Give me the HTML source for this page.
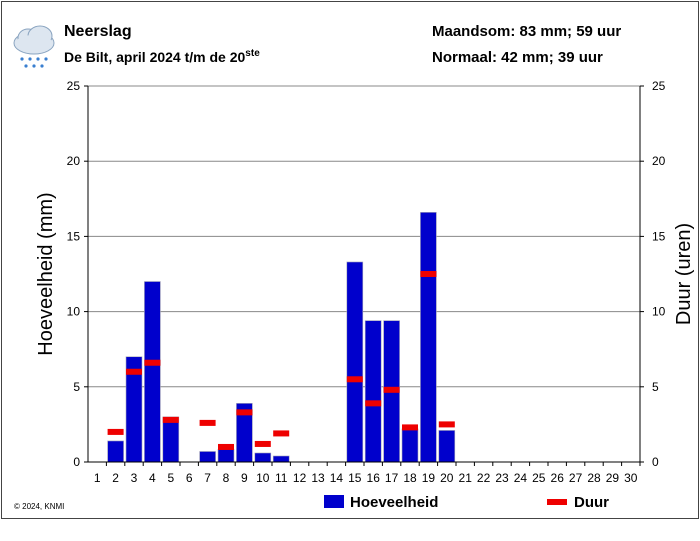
<!DOCTYPE html>
<html><head><meta charset="utf-8"><style>
body{margin:0;background:#fff;}
svg{display:block;font-family:"Liberation Sans",Arial,sans-serif;}
</style></head><body>
<svg id="chart" width="700" height="541" viewBox="0 0 700 541">
<rect x="1.5" y="1.5" width="697" height="517" fill="#fff" stroke="#444"/>
<g>
<ellipse cx="34" cy="43" rx="20" ry="11" fill="#dde6f0" stroke="#8aa4c0"/>
<ellipse cx="28" cy="38" rx="10" ry="9" fill="#dde6f0" stroke="#8aa4c0"/>
<ellipse cx="40" cy="36" rx="12" ry="10" fill="#dde6f0" stroke="#8aa4c0"/>
<ellipse cx="34" cy="44" rx="19" ry="9" fill="#dde6f0"/>
<g fill="#3a7fd0"><circle cx="22" cy="59" r="1.6"/><circle cx="30" cy="59" r="1.6"/><circle cx="38" cy="59" r="1.6"/><circle cx="46" cy="59" r="1.6"/><circle cx="26" cy="66" r="1.6"/><circle cx="34" cy="66" r="1.6"/><circle cx="42" cy="66" r="1.6"/></g>
</g>
<text x="64" y="36" font-size="16" font-weight="bold">Neerslag</text>
<text x="64" y="62" font-size="14" font-weight="bold">De Bilt, april 2024 t/m de 20<tspan font-size="10" dy="-6">ste</tspan></text>
<text x="432" y="36" font-size="15" font-weight="bold">Maandsom: 83 mm; 59 uur</text>
<text x="432" y="62" font-size="15" font-weight="bold">Normaal: 42 mm; 39 uur</text>
<g id="grid"></g>
<g id="bars"></g>
<g id="duur"></g>
<g id="axes"></g>
<text transform="translate(52,274) rotate(-90)" text-anchor="middle" font-size="20">Hoeveelheid (mm)</text>
<text transform="translate(690,274) rotate(-90)" text-anchor="middle" font-size="20">Duur (uren)</text>
<text x="14" y="509" font-size="8">© 2024, KNMI</text>
<g><rect x="324" y="495" width="20" height="13" fill="#0000cc"/><text x="350" y="507" font-size="15" font-weight="bold">Hoeveelheid</text></g>
<g><rect x="547" y="499" width="20" height="6" fill="#ee0000"/><text x="574" y="507" font-size="15" font-weight="bold">Duur</text></g>
</svg>
<script>
const days = Array.from({length:30},(_,i)=>i+1);
const amountMm = [0,1.4,7.0,12.0,3.0,0,0.7,0.85,3.9,0.6,0.4,0,0,0,13.3,9.4,9.4,2.2,16.6,2.1];
const durationH = [null,2.0,6.0,6.6,2.8,null,2.6,1.0,3.3,1.2,1.9,null,null,null,5.5,3.9,4.8,2.3,12.5,2.5];
const yTicks = [0,5,10,15,20,25];
const NS='http://www.w3.org/2000/svg';
const X0=88,X1=640,Y0=462,Y1=86,YMAX=25;
const step=(X1-X0)/30;
const xc=d=>X0+(d-0.5)*step;
const y=v=>Y0-(v/YMAX)*(Y0-Y1);
function mk(tag,attrs,parent){const e=document.createElementNS(NS,tag);for(const k in attrs)e.setAttribute(k,attrs[k]);document.getElementById(parent).appendChild(e);return e;}
yTicks.forEach(t=>{
  if(t>0){const g=mk('line',{x1:X0,x2:X1,y1:y(t),y2:y(t),stroke:'#888','stroke-width':1},'grid');
  
  }
  const l=mk('text',{x:X0-8,y:y(t)+4,'text-anchor':'end','font-size':12},'axes');l.textContent=t;
  
  
  const r=mk('text',{x:X1+12,y:y(t)+4,'font-size':12},'axes');r.textContent=t;
  
  
  mk('line',{x1:X0-4,x2:X0,y1:y(t),y2:y(t),stroke:'#000'},'axes');
  mk('line',{x1:X1,x2:X1+4,y1:y(t),y2:y(t),stroke:'#000'},'axes');
});
mk('line',{x1:X0,x2:X0,y1:Y1,y2:Y0,stroke:'#000'},'axes');
mk('line',{x1:X1,x2:X1,y1:Y1,y2:Y0,stroke:'#000'},'axes');
mk('line',{x1:X0,x2:X1,y1:Y0,y2:Y0,stroke:'#000'},'axes');
days.forEach(d=>{
  mk('line',{x1:X0+d*step,x2:X0+d*step,y1:Y0,y2:Y0+4,stroke:'#000'},'axes');
  const t=mk('text',{x:xc(d),y:Y0+20,'text-anchor':'middle','font-size':12},'axes');t.textContent=d;
  
  
});
amountMm.forEach((v,i)=>{
  if(!v)return;
  const b=mk('rect',{x:xc(i+1)-8,y:y(v),width:16,height:Y0-y(v),fill:'#0000cc',stroke:'#aab','stroke-width':0.6},'bars');
  
  
});
durationH.forEach((v,i)=>{
  if(v==null)return;
  const r=mk('rect',{x:xc(i+1)-8,y:y(v)-3,width:16,height:6,fill:'#ee0000'},'duur');
  
  
});
</script>
</body></html>
